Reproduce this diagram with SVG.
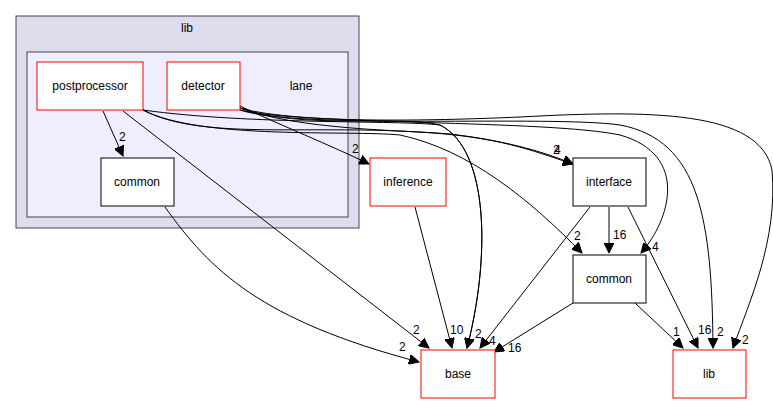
<svg xmlns="http://www.w3.org/2000/svg" width="773" height="404" viewBox="0 0 773 404">
<style>
text{font-family:"Liberation Sans",Arial,sans-serif;font-size:12px;fill:#000}
.lbl{font-size:12px}
.e{fill:none;stroke:#000;stroke-width:1}
.red{fill:#fff;stroke:#ff0000;stroke-width:1}
.blk{fill:#fff;stroke:#000;stroke-width:1}
</style>
<defs>
<marker id="a" markerUnits="userSpaceOnUse" markerWidth="11" markerHeight="10" refX="10" refY="5" orient="auto">
<path d="M0,0 L10,5 L0,10 Z" fill="#000" stroke="#000"/>
</marker>
</defs>
<g id="cluster_lib">
<rect x="16" y="16" width="343" height="212" fill="#ddddee" stroke="#444"/>
<text x="187" y="32" text-anchor="middle">lib</text>
</g>
<g id="cluster_lane">
<rect x="27" y="52" width="321" height="165" fill="#eeeeff" stroke="#444"/>
<text x="301" y="90" text-anchor="middle">lane</text>
</g>
<g id="connectors">
<path class="e" marker-end="url(#a)" d="M103,111 L123,156"/>
<text x="119" y="141">2</text>
<path class="e" marker-end="url(#a)" d="M123,111 L429,348"/>
<text x="413" y="334">2</text>
<path class="e" marker-end="url(#a)" d="M165,207 C210,270 260,320 419,362"/>
<text x="399" y="351">2</text>
<path class="e" marker-end="url(#a)" d="M240,106 C280,125 330,145 369,164"/>
<text x="352" y="153">2</text>
<path class="e" marker-end="url(#a)" d="M415,207 L452,348"/>
<text x="450" y="334">10</text>
<path class="e" marker-end="url(#a)" d="M143,110 C250,125 400,120 440,125 C490,150 490,260 467,348"/>
<path class="e" marker-end="url(#a)" d="M240,108 C300,130 400,115 440,125 C490,150 490,260 467,348"/>
<text x="475" y="338">2</text>
<path class="e" marker-end="url(#a)" d="M590,207 L480,348"/>
<text x="489" y="345">4</text>
<path class="e" marker-end="url(#a)" d="M573,303 L494,352"/>
<text x="508" y="352">16</text>
<path class="e" marker-end="url(#a)" d="M609,207 L609,253"/>
<text x="613" y="239">16</text>
<path class="e" marker-end="url(#a)" d="M143,110 C200,140 350,130 400,135 C470,150 530,200 582,253"/>
<text x="574" y="240">2</text>
<path class="e" marker-end="url(#a)" d="M240,110 C300,125 550,120 620,135 C690,155 670,220 641,253"/>
<text x="652" y="251">4</text>
<path class="e" marker-end="url(#a)" d="M143,110 C200,140 300,125 420,132 C500,137 530,150 573,164"/>
<path class="e" marker-end="url(#a)" d="M240,108 C300,130 400,130 450,134 C500,140 540,150 573,164"/>
<text x="554" y="154">4</text>
<text x="553" y="154">2</text>
<path class="e" marker-end="url(#a)" d="M635,303 L683,348"/>
<text x="673" y="336">1</text>
<path class="e" marker-end="url(#a)" d="M628,207 L698,348"/>
<text x="698" y="334">16</text>
<path class="e" marker-end="url(#a)" d="M240,110 C300,130 550,115 620,125 C700,140 712,220 713,348"/>
<text x="717" y="336">2</text>
<path class="e" marker-end="url(#a)" d="M240,108 C300,125 450,120 520,117 C650,110 760,110 772,170 C778,240 750,300 733,348"/>
<text x="742" y="344">2</text>
</g>
<g id="postprocessor"><rect class="red" x="37" y="62" width="106" height="48"/><text x="90" y="90" text-anchor="middle">postprocessor</text></g>
<g id="detector"><rect class="red" x="167" y="62" width="73" height="48"/><text x="203" y="90" text-anchor="middle">detector</text></g>
<g id="common_inner"><rect class="blk" x="101" y="158" width="73" height="48"/><text x="137" y="186" text-anchor="middle">common</text></g>
<g id="inference"><rect class="red" x="370" y="158" width="76" height="48"/><text x="408" y="186" text-anchor="middle">inference</text></g>
<g id="interface"><rect class="blk" x="573" y="158" width="73" height="48"/><text x="609" y="186" text-anchor="middle">interface</text></g>
<g id="common"><rect class="blk" x="573" y="255" width="73" height="48"/><text x="609" y="283" text-anchor="middle">common</text></g>
<g id="base"><rect class="red" x="421" y="350" width="74" height="48"/><text x="458" y="378" text-anchor="middle">base</text></g>
<g id="lib"><rect class="red" x="673" y="350" width="73" height="48"/><text x="709" y="378" text-anchor="middle">lib</text></g>
</svg>
